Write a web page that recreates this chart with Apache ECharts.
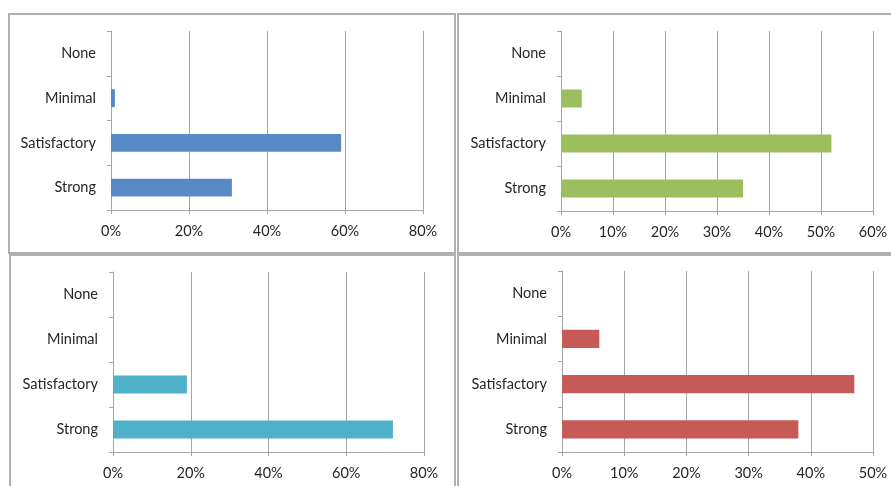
<!DOCTYPE html>
<html>
<head>
<meta charset="utf-8">
<script src="https://cdn.jsdelivr.net/npm/echarts@6/dist/echarts.min.js"></script>
<style>
html,body{margin:0;padding:0;background:#fff;width:891px;height:486px;overflow:hidden;position:relative;}
.p{position:absolute;border:2px solid #b0b0b0;box-sizing:content-box;background:#fff;}
</style>
</head>
<body>
<div id="c1" class="p" style="left:8px;top:13px;width:444px;height:237px;"></div>
<div id="c2" class="p" style="left:457px;top:13px;width:440px;height:237px;"></div>
<div id="c3" class="p" style="left:9px;top:254px;width:443px;height:240px;"></div>
<div id="c4" class="p" style="left:457px;top:254px;width:440px;height:240px;"></div>
<script>
// Categories (bottom to top)
var categories = ['Strong', 'Satisfactory', 'Minimal', 'None'];
// Series values (%), one panel each
var panel1Values = [31, 59, 1, 0];
var panel2Values = [35, 52, 4, 0];
var panel3Values = [72, 19, 0, 0];
var panel4Values = [38, 47, 6, 0];
// Value axis ranges
var panel1Axis = {max: 80, interval: 20};
var panel2Axis = {max: 60, interval: 10};
var panel3Axis = {max: 80, interval: 20};
var panel4Axis = {max: 50, interval: 10};
var colors = ['#5689c6', '#9bbf5e', '#4eb0c9', '#c65a57'];

var FONT = 'Lato, "Open Sans", sans-serif';
var GRAY = '#a6a6a6';

function build(id, values, axis, color, grid) {
  var chart = echarts.init(document.getElementById(id), null, {renderer: 'canvas'});
  chart.setOption({
    animation: false,
    grid: grid,
    xAxis: {
      type: 'value', min: 0, max: axis.max, interval: axis.interval,
      axisLine: {show: true, lineStyle: {color: GRAY, width: 1}},
      axisTick: {show: true, length: 4, lineStyle: {color: GRAY}},
      splitLine: {show: true, lineStyle: {color: GRAY, width: 1}},
      axisLabel: {formatter: '{value}%', color: '#262626', fontFamily: FONT, fontSize: 14.5, margin: 14}
    },
    yAxis: {
      type: 'category', data: categories,
      axisLine: {show: true, lineStyle: {color: GRAY, width: 1}},
      axisTick: {show: true, length: 4, lineStyle: {color: GRAY}},
      axisLabel: {color: '#262626', fontFamily: FONT, fontSize: 14.5, margin: 15}
    },
    series: [{
      type: 'bar', data: values, barCategoryGap: '60%',
      itemStyle: {color: color}
    }]
  });
}
build('c1', panel1Values, panel1Axis, colors[0], {left: 101, top: 16, width: 312, height: 179});
build('c2', panel2Values, panel2Axis, colors[1], {left: 102, top: 16, width: 312, height: 180});
build('c3', panel3Values, panel3Axis, colors[2], {left: 102, top: 16, width: 311, height: 180});
build('c4', panel4Values, panel4Axis, colors[3], {left: 103, top: 15, width: 311, height: 181});
</script>
</body>
</html>
